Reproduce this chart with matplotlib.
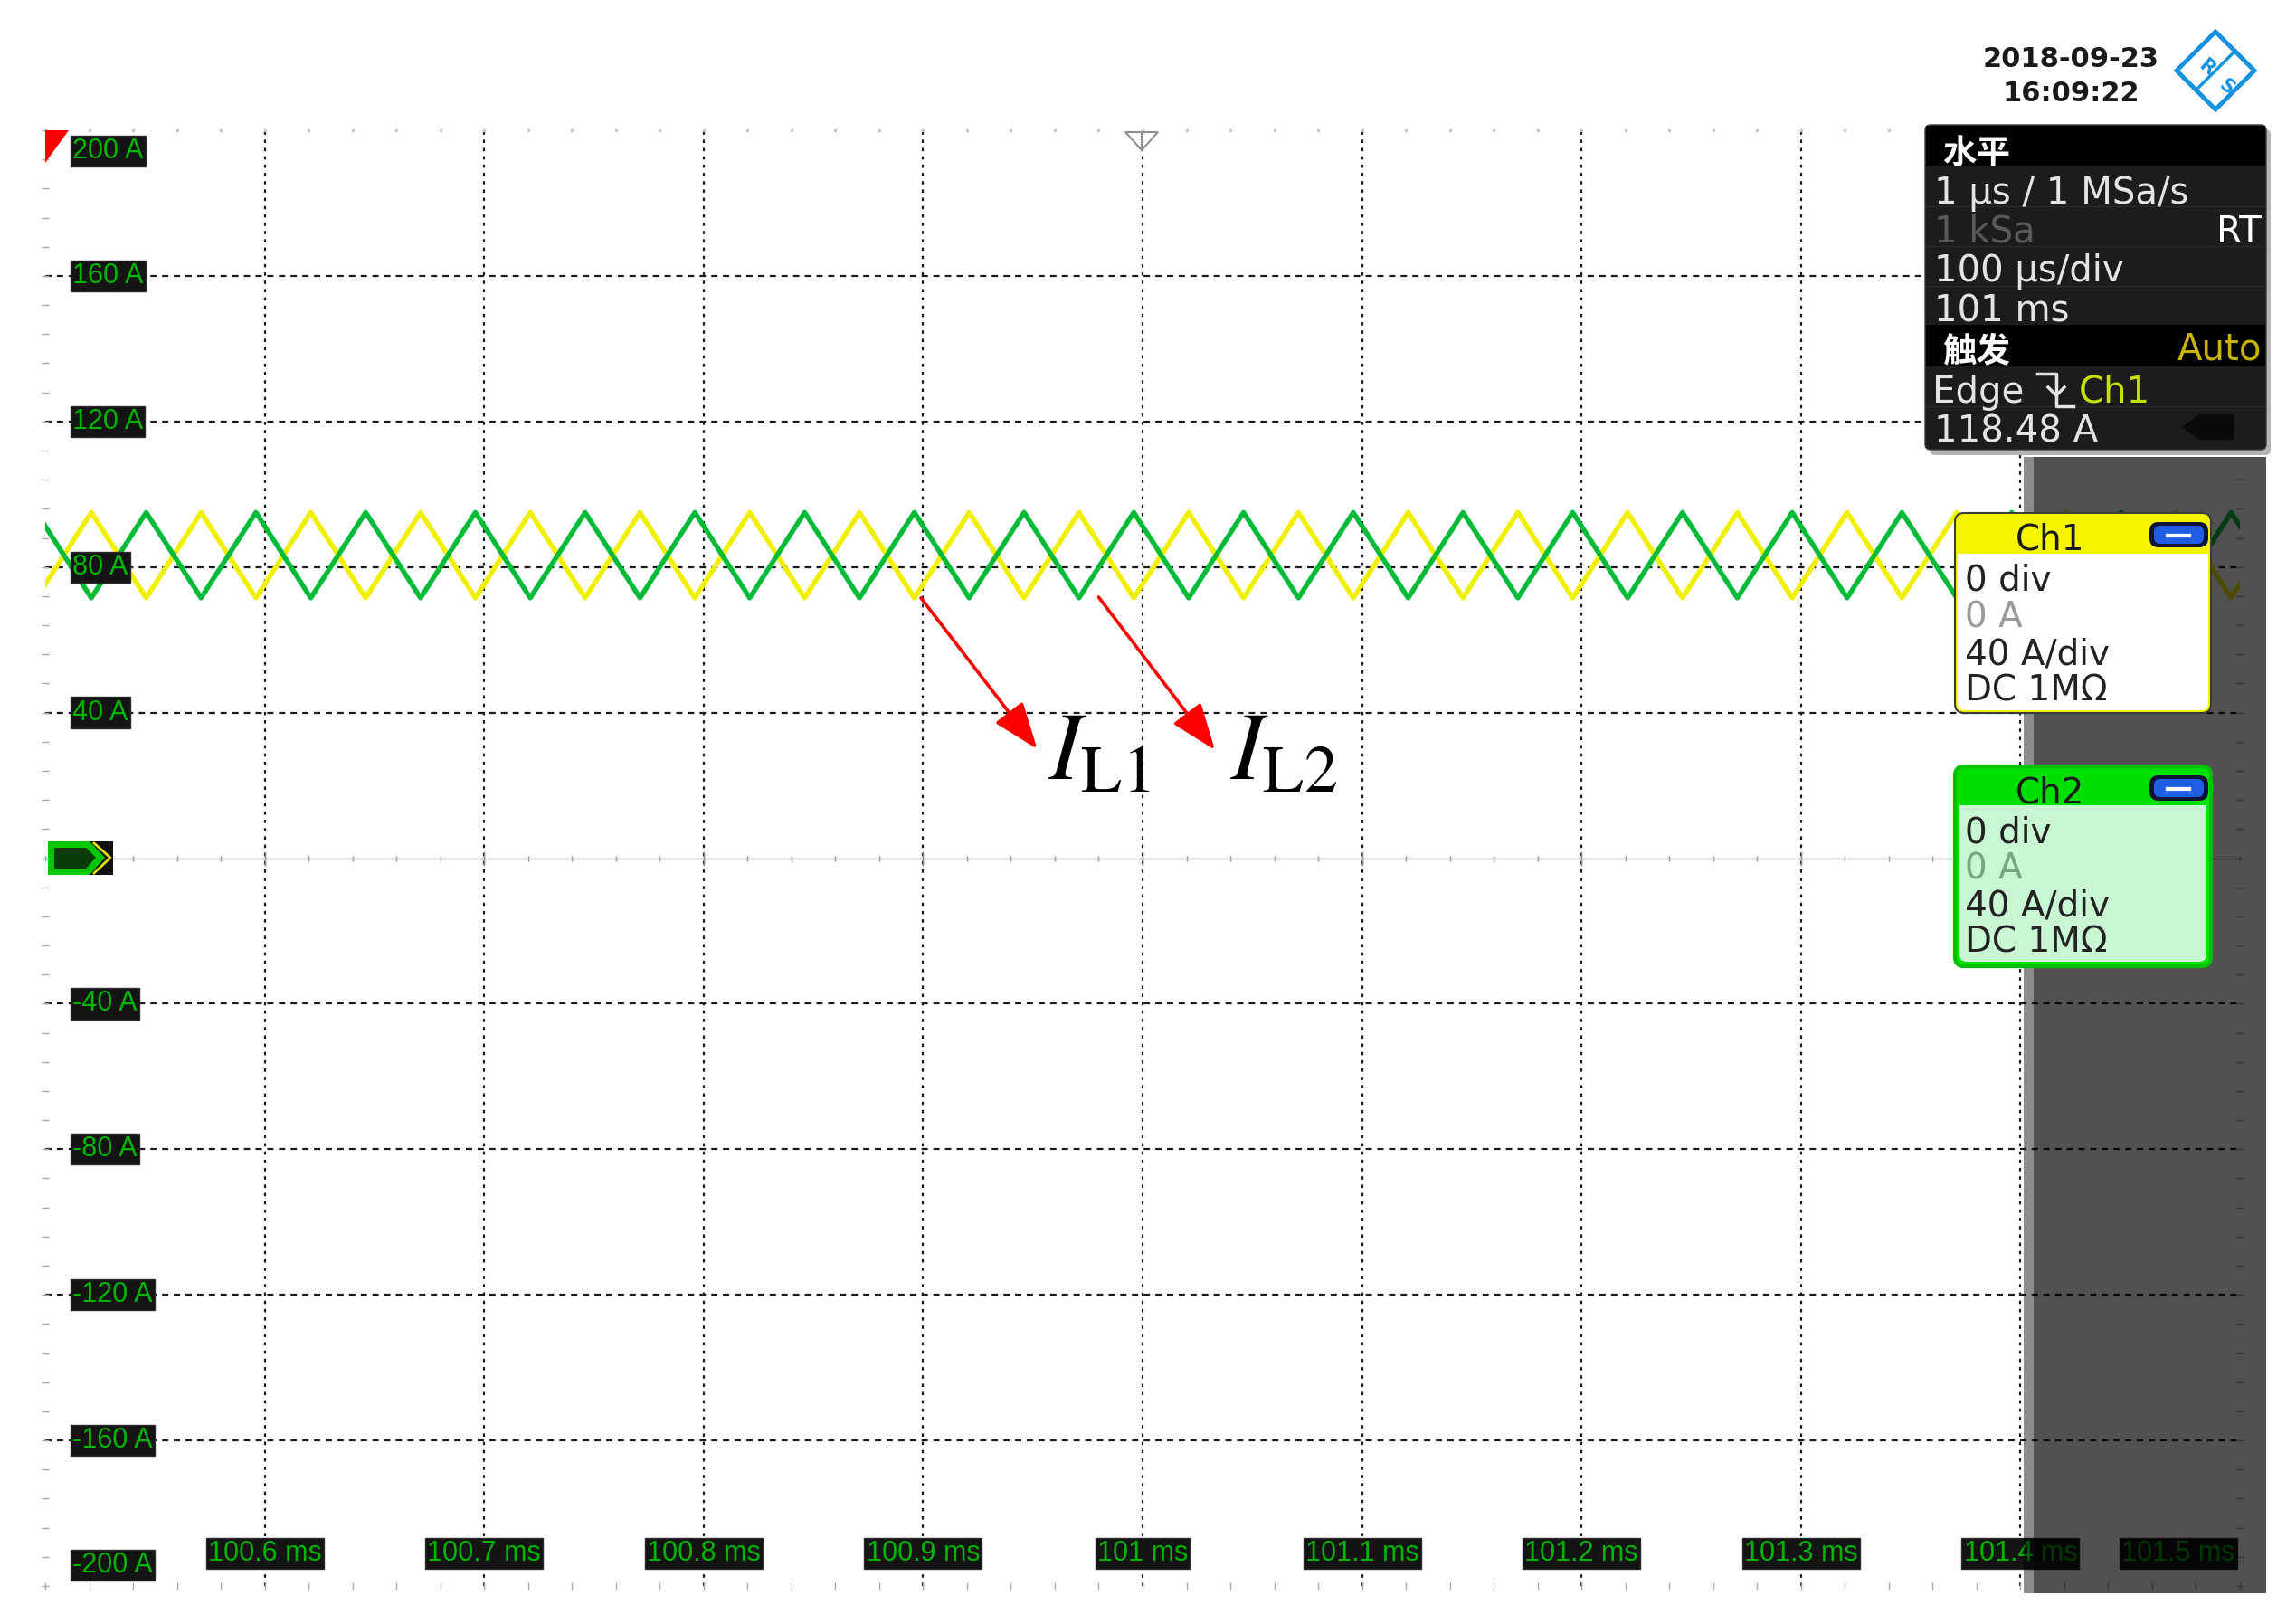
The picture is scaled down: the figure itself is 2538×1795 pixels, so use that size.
import matplotlib
matplotlib.use('Agg')
import numpy as np
import matplotlib.pyplot as plt
import matplotlib.font_manager as fm
from matplotlib.patches import Rectangle, FancyBboxPatch, Polygon
from matplotlib.lines import Line2D

# ---- data ----
# triangle ripple vertices (time in ms), shared by both channels
vertex_t = [100.496, 100.521, 100.546, 100.571, 100.596, 100.621, 100.646, 100.671,
            100.696, 100.721, 100.746, 100.771, 100.796, 100.821, 100.846, 100.871,
            100.896, 100.921, 100.946, 100.971, 100.996, 101.021, 101.046, 101.071,
            101.096, 101.121, 101.146, 101.171, 101.196, 101.221, 101.246, 101.271,
            101.296, 101.321, 101.346, 101.371, 101.396, 101.421, 101.446, 101.471,
            101.496, 101.521]
# Ch1 (yellow, I_L1) in A
ch1_a = [71.5, 95.0, 71.5, 95.0, 71.5, 95.0, 71.5, 95.0, 71.5, 95.0, 71.5, 95.0,
         71.5, 95.0, 71.5, 95.0, 71.5, 95.0, 71.5, 95.0, 71.5, 95.0, 71.5, 95.0,
         71.5, 95.0, 71.5, 95.0, 71.5, 95.0, 71.5, 95.0, 71.5, 95.0, 71.5, 95.0,
         71.5, 95.0, 71.5, 95.0, 71.5, 95.0]
# Ch2 (green, I_L2) in A
ch2_a = [95.0, 71.5, 95.0, 71.5, 95.0, 71.5, 95.0, 71.5, 95.0, 71.5, 95.0, 71.5,
         95.0, 71.5, 95.0, 71.5, 95.0, 71.5, 95.0, 71.5, 95.0, 71.5, 95.0, 71.5,
         95.0, 71.5, 95.0, 71.5, 95.0, 71.5, 95.0, 71.5, 95.0, 71.5, 95.0, 71.5,
         95.0, 71.5, 95.0, 71.5, 95.0, 71.5]

y_ticks = [200, 160, 120, 80, 40, -40, -80, -120, -160, -200]
y_labels = ['200 A', '160 A', '120 A', '80 A', '40 A', '-40 A', '-80 A', '-120 A', '-160 A', '-200 A']
x_ticks = [100.6, 100.7, 100.8, 100.9, 101.0, 101.1, 101.2, 101.3, 101.4, 101.5]
x_labels = ['100.6 ms', '100.7 ms', '100.8 ms', '100.9 ms', '101 ms', '101.1 ms',
            '101.2 ms', '101.3 ms', '101.4 ms', '101.5 ms']

t_range = (100.5, 101.5)
a_range = (-200, 200)

horiz_rows = ['1 µs / 1 MSa/s', '1 kSa', '100 µs/div', '101 ms']
trig_rows = ['Edge', '118.48 A']
ch_rows = ['0 div', '0 A', '40 A/div', 'DC 1MΩ']

# ---- setup ----
W, H, DPI = 2538, 1795, 100
plt.rcParams['mathtext.fontset'] = 'stix'
plt.rcParams['lines.scale_dashes'] = False
names = {f.name for f in fm.fontManager.ttflist}
NARROW = 'Liberation Sans Narrow' if 'Liberation Sans Narrow' in names else 'Liberation Sans'
LAB_FS = 24 if NARROW == 'Liberation Sans Narrow' else 22
CJK = ['Noto Sans CJK SC', 'DejaVu Sans']

fig = plt.figure(figsize=(W / DPI, H / DPI), dpi=DPI)
ax = fig.add_axes([50 / W, 1 - 1753 / H, 2426 / W, 1609 / H])
ax.set_xlim(*t_range)
ax.set_ylim(*a_range)
ax.axis('off')


def rect(x0, y0, x1, y1, fc, ec='none', lw=0, r=0.0, z=20, alpha=1.0):
    # box in screen pixels (top-left origin)
    x, y = x0 / DPI, (H - y1) / DPI
    w, h = (x1 - x0) / DPI, (y1 - y0) / DPI
    if r > 0:
        p = FancyBboxPatch((x + r, y + r), w - 2 * r, h - 2 * r, boxstyle='round,pad=%g' % r,
                           fc=fc, ec=ec, lw=lw, alpha=alpha, zorder=z,
                           transform=fig.dpi_scale_trans)
    else:
        p = Rectangle((x, y), w, h, fc=fc, ec=ec, lw=lw, alpha=alpha, zorder=z,
                      transform=fig.dpi_scale_trans)
    fig.add_artist(p)


def poly(pts, z=20, **kw):
    fig.add_artist(Polygon([(x / DPI, (H - y) / DPI) for x, y in pts], closed=True,
                           transform=fig.dpi_scale_trans, zorder=z, **kw))


def fline(xs, ys, z=20, **kw):
    fig.add_artist(Line2D([x / DPI for x in xs], [(H - y) / DPI for y in ys],
                          transform=fig.dpi_scale_trans, zorder=z, **kw))


def ftext(x, y, s, z=40, **kw):
    kw.setdefault('va', 'center_baseline')
    fig.text(x / W, 1 - y / H, s, zorder=z, **kw)


# ---- graticule ----
for v in y_ticks[1:-1]:
    ax.axhline(v, color='#1a1a1a', lw=1.6, dashes=(5, 4.3), zorder=1)
ax.axhline(0, color='#8c8c8c', lw=1.0, zorder=1)
for t in x_ticks[:-1]:
    ax.axvline(t, color='#1a1a1a', lw=1.6, dashes=(2.6, 4.0), zorder=1)

minor_t = np.arange(100.5, 101.5001, 0.02)
minor_a = np.arange(-200, 200.1, 8)
ax.plot(minor_t, np.zeros_like(minor_t), ls='none', marker='|', ms=5, mew=1, color='#8c8c8c', zorder=1)
ax.plot(x_ticks[:-1], np.zeros(9), ls='none', marker='|', ms=12, mew=1, color='#8c8c8c', zorder=1)
ax.plot(np.full_like(minor_a, t_range[0]), minor_a, ls='none', marker='_', ms=6, mew=1,
        color='#a8a8a8', zorder=1, clip_on=False)
ax.plot(np.full_like(minor_a, t_range[1]), minor_a, ls='none', marker='_', ms=6, mew=1,
        color='#a8a8a8', zorder=1, clip_on=False)
ax.plot(minor_t, np.full_like(minor_t, a_range[0]), ls='none', marker='|', ms=6, mew=1,
        color='#a8a8a8', zorder=1, clip_on=False)
ax.plot(minor_t, np.full_like(minor_t, a_range[1]), ls='none', marker='.', ms=3,
        color='#c4c4c4', zorder=1, clip_on=False)

# ---- traces ----
ax.plot(vertex_t, ch1_a, color='#f0f000', lw=3.9, solid_joinstyle='round', zorder=3)
ax.plot(vertex_t, ch2_a, color='#00bb38', lw=3.9, solid_joinstyle='round', zorder=4)

# ---- axis labels ----
lab_box = dict(boxstyle='square,pad=0.07', fc='#141414', ec='#2c2c2c', lw=1)
for v, s in zip(y_ticks, y_labels):
    dy = 0
    if v == a_range[1]:
        dy = -23
    elif v == a_range[0]:
        dy = 23
    ax.annotate(s, xy=(0, v), xycoords=ax.get_yaxis_transform(), xytext=(30, dy),
                textcoords='offset pixels', ha='left', va='center', fontsize=LAB_FS,
                family=NARROW, color='#00b400', bbox=lab_box, zorder=6)
for t, s in zip(x_ticks, x_labels):
    dx = -68 if t == t_range[1] else 0
    ax.annotate(s, xy=(t, 0), xycoords=ax.get_xaxis_transform(), xytext=(dx, 36),
                textcoords='offset pixels', ha='center', va='center', fontsize=LAB_FS,
                family=NARROW, color='#00b400', bbox=lab_box, zorder=6)

# ---- annotations ----
arw = dict(arrowstyle='-|>,head_length=0.8,head_width=0.3', color='#ff0000', lw=2.6,
           mutation_scale=40, shrinkA=0, shrinkB=0)
ax.annotate('', xy=(100.952, 30.0), xytext=(100.899, 71.5), arrowprops=arw, zorder=7)
ax.annotate('', xy=(101.033, 29.7), xytext=(100.980, 71.7), arrowprops=arw, zorder=7)
ax.text(100.957, 21.5, r'$I_{\mathrm{L1}}$', fontsize=76, ha='left', va='baseline', zorder=7)
ax.text(101.040, 21.5, r'$I_{\mathrm{L2}}$', fontsize=76, ha='left', va='baseline', zorder=7)

# ---- screen markers ----
poly([(50, 144), (76, 144), (50, 180)], fc='#ff0000', ec='none', z=15)
poly([(1244, 146), (1280, 146), (1262, 166)], fc='none', ec='#909090', lw=1.5, z=15)
fline([1262, 1262], [146, 166], color='#909090', lw=1.5, z=15)
rect(53, 930, 125, 967, fc='#101010', z=15)
poly([(53, 930), (99, 930), (116, 948), (99, 967), (53, 967)], fc='#00c800', ec='none', z=16)
poly([(60, 937), (95, 937), (106, 948), (95, 960), (60, 960)], fc='#0b3a0b', ec='none', z=16)
fline([104, 122, 104], [932, 948, 965], color='#e0e000', lw=2, z=17)

# ---- side panel (semi-transparent) ----
rect(2237, 505, 2505, 1761, fc='black', alpha=0.45, z=10)
rect(2248, 505, 2505, 1761, fc='black', alpha=0.42, z=10)

# Ch1 box
rect(2161, 567, 2444, 788, fc='#f5f500', ec='#3c3c3c', lw=1.5, r=0.1, z=20)
rect(2164, 612, 2441, 785, fc='white', r=0.08, z=21)
rect(2164, 612, 2441, 630, fc='white', z=21)
ftext(2266, 592, 'Ch1', fontsize=28, ha='center', color='#1a1a1a')
# Ch2 box
rect(2161, 847, 2444, 1068, fc='#00e000', ec='#00c000', lw=3, r=0.1, z=20)
rect(2166, 890, 2439, 1063, fc='#c9f7d4', r=0.08, z=21)
rect(2166, 890, 2439, 910, fc='#c9f7d4', z=21)
ftext(2266, 872, 'Ch2', fontsize=28, ha='center', color='#1a1a1a')
for y0, zero_col in [(638, '#9a9a9a'), (916, '#74a883')]:
    cols = ['#222222', zero_col, '#222222', '#222222']
    for i, (s, c) in enumerate(zip(ch_rows, cols)):
        ftext(2172, y0 + i * 40.5, s, fontsize=28, color=c)
for yb in [577, 857]:
    rect(2376, yb, 2441, yb + 28, fc='#0c1436', r=0.1, z=25)
    rect(2381, yb + 4, 2436, yb + 24, fc='#1f5fe6', r=0.07, z=26)
    fline([2396, 2420], [yb + 15, yb + 15], color='white', lw=3, z=27)

# info panel
rect(2133, 143, 2510, 503, fc='#b4b4b4', r=0.06, z=29)
rect(2128, 138, 2505, 497, fc='#1c1c1c', ec='#3a3a3a', lw=1, r=0.06, z=30)
rect(2129, 139, 2504, 183, fc='black', z=31)
rect(2129, 359, 2504, 405, fc='black', z=31)
for ys in [228, 272, 316, 449]:
    fline([2129, 2504], [ys, ys], color='#2a2a2a', lw=1, z=31)
ftext(2147, 165, '水平', fontsize=27, family=CJK, weight='bold', color='white')
row_cols = ['#e4e4e4', '#5a5a5a', '#e4e4e4', '#e4e4e4']
for i, (s, c) in enumerate(zip(horiz_rows, row_cols)):
    ftext(2138, 209 + i * 43.5, s, fontsize=29, color=c)
ftext(2500, 252, 'RT', fontsize=29, ha='right', color='white')
ftext(2147, 384, '触发', fontsize=27, family=CJK, weight='bold', color='white')
ftext(2500, 382, 'Auto', fontsize=29, ha='right', color='#c8b400')
ftext(2136, 429, trig_rows[0], fontsize=29, color='#e4e4e4')
fline([2252, 2273, 2273, 2292], [413, 413, 449, 449], color='#e4e4e4', lw=2.5, z=32)
fline([2264, 2273, 2282], [428, 437, 428], color='#e4e4e4', lw=2.5, z=32)
ftext(2298, 429, 'Ch1', fontsize=29, color='#c8e000')
ftext(2138, 473, trig_rows[1], fontsize=29, color='#e4e4e4')
poly([(2412, 472), (2430, 458), (2470, 458), (2470, 486), (2430, 486)], fc='#0a0a0a', ec='none', z=32)

# date and logo
ftext(2289, 62, '2018-09-23', fontsize=22, weight='bold', ha='center', color='#1a1a1a')
ftext(2289, 101, '16:09:22', fontsize=22, weight='bold', ha='center', color='#1a1a1a')
poly([(2449, 35), (2492, 78), (2449, 121), (2406, 78)], fc='white', ec='#1493e0', lw=3.5, z=20)
fline([2471, 2427], [56, 100], color='#1493e0', lw=2.5, z=21)
ftext(2439, 70, 'R', fontsize=15, weight='bold', ha='center', color='#1493e0', rotation=-40)
ftext(2461, 92, 'S', fontsize=15, weight='bold', ha='center', color='#1493e0', rotation=-40)

fig.savefig('out.png', dpi=DPI, facecolor='white')
